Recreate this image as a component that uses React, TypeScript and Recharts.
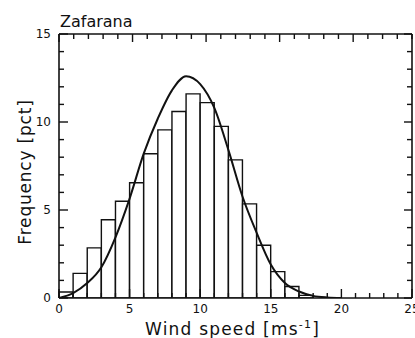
import React from 'react';
import { ComposedChart, Bar, Line, XAxis, YAxis, Label } from 'recharts';

// Histogram bins (1 m/s wide) and their frequencies [pct]
const binLabels = ['0-1','1-2','2-3','3-4','4-5','5-6','6-7','7-8','8-9','9-10','10-11','11-12','12-13','13-14','14-15','15-16','16-17','17-18','18-19','19-20','20-21','21-22','22-23','23-24','24-25'];
const binFreq: (number | null)[] = [0.34, 1.4, 2.85, 4.45, 5.5, 6.55, 8.2, 9.55, 10.6, 11.6, 11.1, 9.75, 7.85, 5.35, 3.0, 1.5, 0.65, 0.15, null, null, null, null, null, null, null];

// Fitted distribution curve
const curveSpeed = [0, 1, 2, 3, 4, 5, 6, 7, 8, 9, 10, 11, 12, 13, 14, 15, 16, 17, 18, 19, 20];
const curveFreq = [0, 0.28, 0.85, 1.75, 3.45, 5.65, 8.2, 10.2, 11.8, 12.6, 12.15, 10.8, 8.4, 5.75, 3.7, 1.9, 0.85, 0.37, 0.12, 0.03, 0];

// Axis ticks
const xTicks = [0,1,2,3,4,5,6,7,8,9,10,11,12,13,14,15,16,17,18,19,20,21,22,23,24,25];
const yTicks = [0,1,2,3,4,5,6,7,8,9,10,11,12,13,14,15];
const xMajorTicks = [0, 5, 10, 15, 20, 25];
const yMajorTicks = [0, 5, 10, 15];

const titleText = 'Zafarana';
const xTitle = 'Wind speed [ms';
const xTitleSup = '-1';
const yTitle = 'Frequency [pct]';

const binData = binLabels.map((bin, i) => ({ bin, freq: binFreq[i] }));
const curveData = curveSpeed.map((speed, i) => ({ speed, freq: curveFreq[i] }));

const FONT = '"DejaVu Sans", sans-serif';
const INK = '#111';

const BottomTick = (props: any) => {
  const { x, y, payload } = props;
  const v = payload.value;
  const major = xMajorTicks.includes(v);
  return (
    <g>
      <line x1={x} y1={y} x2={x} y2={y - (major ? 9 : 5)} stroke={INK} strokeWidth={1.4} />
      {major && (
        <text x={x} y={y + 15} textAnchor="middle" fontSize={12} fontFamily={FONT} fill={INK}>{v}</text>
      )}
    </g>
  );
};

const TopTick = (props: any) => {
  const { x, y, payload } = props;
  const major = xMajorTicks.includes(payload.value);
  return <line x1={x} y1={y} x2={x} y2={y + (major ? 8 : 5)} stroke={INK} strokeWidth={1.4} />;
};

const LeftTick = (props: any) => {
  const { x, y, payload } = props;
  const v = payload.value;
  const major = yMajorTicks.includes(v);
  return (
    <g>
      <line x1={x} y1={y} x2={x + (major ? 9 : 5)} y2={y} stroke={INK} strokeWidth={1.4} />
      {major && (
        <text x={x - 8} y={y} dy="0.36em" textAnchor="end" fontSize={12} fontFamily={FONT} fill={INK}>{v}</text>
      )}
    </g>
  );
};

const RightTick = (props: any) => {
  const { x, y, payload } = props;
  const major = yMajorTicks.includes(payload.value);
  return <line x1={x} y1={y} x2={x - (major ? 8 : 5)} y2={y} stroke={INK} strokeWidth={1.4} />;
};

const axisLine = { stroke: INK, strokeWidth: 1.6 };

export default function App() {
  return (
    <div style={{ position: 'absolute', left: 0, top: 0, width: 415, height: 338, background: '#fff' }}>
      <ComposedChart
        width={415}
        height={338}
        data={binData}
        margin={{ top: 33, right: 2, bottom: 39, left: 58 }}
        barCategoryGap={0}
        barGap={0}
      >
        <XAxis xAxisId="bins" type="category" dataKey="bin" hide height={0} />
        <XAxis
          xAxisId="num"
          type="number"
          dataKey="speed"
          domain={[0, 25]}
          ticks={xTicks}
          interval={0}
          allowDataOverflow
          height={1}
          tickSize={0}
          tickMargin={0}
          tickLine={false}
          axisLine={axisLine}
          tick={<BottomTick />}
        >
          <Label
            content={(p: any) => {
              const vb = p.viewBox || { x: 59, y: 298, width: 353 };
              const cx = vb.x + vb.width / 2 - 3;
              return (
                <text x={cx} y={vb.y + 37} textAnchor="middle" fontSize={17} letterSpacing={1.2} fontFamily={FONT} fill={INK}>
                  <tspan>{xTitle}</tspan>
                  <tspan dy={-7} fontSize={11}>{xTitleSup}</tspan>
                  <tspan dy={7}>]</tspan>
                </text>
              );
            }}
          />
        </XAxis>
        <XAxis
          xAxisId="top"
          orientation="top"
          type="number"
          domain={[0, 25]}
          ticks={xTicks}
          interval={0}
          allowDataOverflow
          height={1}
          tickSize={0}
          tickMargin={0}
          tickLine={false}
          axisLine={axisLine}
          tick={<TopTick />}
        >
          <Label
            content={(p: any) => {
              const vb = p.viewBox || { x: 59, y: 33 };
              return (
                <text x={vb.x + 1} y={vb.y - 6} fontSize={16} fontFamily={FONT} fill={INK}>{titleText}</text>
              );
            }}
          />
        </XAxis>
        <YAxis
          yAxisId="left"
          type="number"
          domain={[0, 15]}
          ticks={yTicks}
          interval={0}
          allowDataOverflow
          width={1}
          tickSize={0}
          tickMargin={0}
          tickLine={false}
          axisLine={axisLine}
          tick={<LeftTick />}
        >
          <Label
            content={(p: any) => {
              const vb = p.viewBox || { x: 58, y: 34, width: 1, height: 264 };
              const tx = vb.x + (vb.width || 0) - 28;
              const ty = vb.y + vb.height / 2 + 6;
              return (
                <text x={tx} y={ty} transform={`rotate(-90 ${tx} ${ty})`} textAnchor="middle" fontSize={17} letterSpacing={0.8} fontFamily={FONT} fill={INK}>
                  {yTitle}
                </text>
              );
            }}
          />
        </YAxis>
        <YAxis
          yAxisId="right"
          orientation="right"
          type="number"
          domain={[0, 15]}
          ticks={yTicks}
          interval={0}
          allowDataOverflow
          width={1}
          tickSize={0}
          tickMargin={0}
          tickLine={false}
          axisLine={axisLine}
          tick={<RightTick />}
        />
        <Bar
          xAxisId="bins"
          yAxisId="left"
          dataKey="freq"
          fill="#fff"
          stroke={INK}
          strokeWidth={1.4}
          isAnimationActive={false}
        />
        <Line
          xAxisId="num"
          yAxisId="left"
          data={curveData}
          dataKey="freq"
          type="monotone"
          dot={false}
          activeDot={false}
          stroke={INK}
          strokeWidth={2}
          isAnimationActive={false}
        />
      </ComposedChart>
    </div>
  );
}
